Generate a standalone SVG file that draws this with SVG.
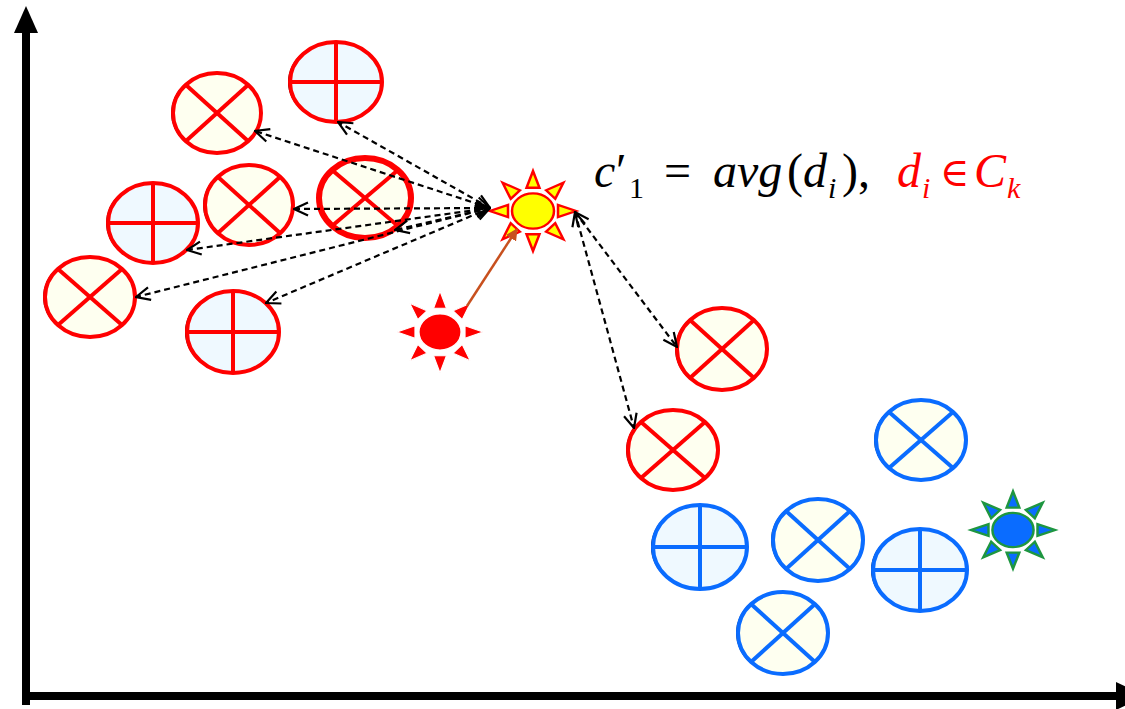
<svg xmlns="http://www.w3.org/2000/svg" width="1125" height="709" viewBox="0 0 1125 709">
<style>
.sh{fill:#000}
.rc{fill:#FEFFF0;stroke:#FF0000;stroke-width:4}
.rp{fill:#EFF9FF;stroke:#FF0000;stroke-width:4}
.bc{fill:#FEFFF0;stroke:#0A6CFF;stroke-width:4}
.bp{fill:#EFF9FF;stroke:#0A6CFF;stroke-width:4}
.rl{stroke:#FF0000;stroke-width:4}
.bl{stroke:#0A6CFF;stroke-width:4}
.dash{fill:none;stroke:#000;stroke-width:2.2;stroke-dasharray:6 4;marker-start:url(#v);marker-end:url(#v)}
.ax{stroke:#000;stroke-width:8;fill:none}
.f{font-family:"Liberation Serif","DejaVu Serif",serif;font-size:48px;fill:#000}
.it{font-style:italic}
.sub{font-size:30px}
</style>
<defs>
<marker id="v" viewBox="0 0 16 16" refX="15" refY="8" markerWidth="16" markerHeight="16" markerUnits="userSpaceOnUse" orient="auto-start-reverse">
<path d="M1,1.5 L15,8 L1,14.5" fill="none" stroke="#000" stroke-width="2.2"/>
</marker>
<marker id="oa" viewBox="0 0 12 12" refX="11" refY="6" markerWidth="12" markerHeight="12" markerUnits="userSpaceOnUse" orient="auto">
<path d="M0,0 L12,6 L0,12 z" fill="#C8501E"/>
</marker>
<g id="sun">
<polygon points="-6.5,-25 6.5,-25 0,-43"/>
<polygon points="-6.5,-25 6.5,-25 0,-43" transform="rotate(45)"/>
<polygon points="-6.5,-25 6.5,-25 0,-43" transform="rotate(90)"/>
<polygon points="-6.5,-25 6.5,-25 0,-43" transform="rotate(135)"/>
<polygon points="-6.5,-25 6.5,-25 0,-43" transform="rotate(180)"/>
<polygon points="-6.5,-25 6.5,-25 0,-43" transform="rotate(225)"/>
<polygon points="-6.5,-25 6.5,-25 0,-43" transform="rotate(270)"/>
<polygon points="-6.5,-25 6.5,-25 0,-43" transform="rotate(315)"/>
<ellipse rx="21" ry="19"/>
</g>
</defs>

<g id="axes">
<line class="ax" x1="26" y1="705" x2="26" y2="30"/>
<polygon points="14,33 38,33 26,6" fill="#000"/>
<line class="ax" x1="22" y1="696" x2="1118" y2="696"/>
<polygon points="1116,682 1116,710 1145,696" fill="#000"/>
</g>

<g id="red-cross-1"><ellipse class="sh" cx="215" cy="113" rx="44" ry="40"/><ellipse class="rc" cx="217" cy="113" rx="44" ry="40"/><line class="rl" x1="186" y1="85" x2="248" y2="141"/><line class="rl" x1="248" y1="85" x2="186" y2="141"/></g>
<g id="red-plus-2"><ellipse class="sh" cx="334" cy="82" rx="46" ry="40"/><ellipse class="rp" cx="336" cy="82" rx="46" ry="40"/><line class="rl" x1="290" y1="82" x2="382" y2="82"/><line class="rl" x1="336" y1="42" x2="336" y2="122"/></g>
<g id="red-cross-3"><ellipse class="sh" cx="247" cy="205" rx="44" ry="40"/><ellipse class="rc" cx="249" cy="205" rx="44" ry="40"/><line class="rl" x1="218" y1="177" x2="280" y2="233"/><line class="rl" x1="280" y1="177" x2="218" y2="233"/></g>
<g id="red-cross-4"><ellipse class="rc" cx="365" cy="198" rx="46" ry="40" style="stroke-width:6"/><line class="rl" x1="332" y1="170" x2="398" y2="226"/><line class="rl" x1="398" y1="170" x2="332" y2="226"/></g>
<g id="red-plus-5"><ellipse class="sh" cx="151" cy="223" rx="45" ry="40"/><ellipse class="rp" cx="153" cy="223" rx="45" ry="40"/><line class="rl" x1="108" y1="223" x2="198" y2="223"/><line class="rl" x1="153" y1="183" x2="153" y2="263"/></g>
<g id="red-cross-6"><ellipse class="sh" cx="88" cy="297" rx="45" ry="40"/><ellipse class="rc" cx="90" cy="297" rx="45" ry="40"/><line class="rl" x1="58" y1="269" x2="122" y2="325"/><line class="rl" x1="122" y1="269" x2="58" y2="325"/></g>
<g id="red-plus-7"><ellipse class="sh" cx="231" cy="332" rx="46" ry="41"/><ellipse class="rp" cx="233" cy="332" rx="46" ry="41"/><line class="rl" x1="187" y1="332" x2="279" y2="332"/><line class="rl" x1="233" y1="291" x2="233" y2="373"/></g>
<g id="red-cross-8"><ellipse class="sh" cx="720" cy="349" rx="45" ry="41"/><ellipse class="rc" cx="722" cy="349" rx="45" ry="41"/><line class="rl" x1="690" y1="320" x2="754" y2="378"/><line class="rl" x1="754" y1="320" x2="690" y2="378"/></g>
<g id="red-cross-9"><ellipse class="sh" cx="671" cy="450" rx="45" ry="40"/><ellipse class="rc" cx="673" cy="450" rx="45" ry="40"/><line class="rl" x1="641" y1="422" x2="705" y2="478"/><line class="rl" x1="705" y1="422" x2="641" y2="478"/></g>

<g id="blue-cross-10"><ellipse class="sh" cx="919" cy="440" rx="45" ry="40"/><ellipse class="bc" cx="921" cy="440" rx="45" ry="40"/><line class="bl" x1="889" y1="412" x2="953" y2="468"/><line class="bl" x1="953" y1="412" x2="889" y2="468"/></g>
<g id="blue-plus-11"><ellipse class="sh" cx="698" cy="547" rx="47" ry="42"/><ellipse class="bp" cx="700" cy="547" rx="47" ry="42"/><line class="bl" x1="653" y1="547" x2="747" y2="547"/><line class="bl" x1="700" y1="505" x2="700" y2="589"/></g>
<g id="blue-cross-12"><ellipse class="sh" cx="816" cy="540" rx="45" ry="41"/><ellipse class="bc" cx="818" cy="540" rx="45" ry="41"/><line class="bl" x1="786" y1="511" x2="850" y2="569"/><line class="bl" x1="850" y1="511" x2="786" y2="569"/></g>
<g id="blue-plus-13"><ellipse class="sh" cx="918" cy="570" rx="47" ry="41"/><ellipse class="bp" cx="920" cy="570" rx="47" ry="41"/><line class="bl" x1="873" y1="570" x2="967" y2="570"/><line class="bl" x1="920" y1="529" x2="920" y2="611"/></g>
<g id="blue-cross-14"><ellipse class="sh" cx="781" cy="633" rx="45" ry="41"/><ellipse class="bc" cx="783" cy="633" rx="45" ry="41"/><line class="bl" x1="751" y1="604" x2="815" y2="662"/><line class="bl" x1="815" y1="604" x2="751" y2="662"/></g>

<g id="sun-yellow"><use href="#sun" transform="translate(533,211) scale(1.0,0.93)" fill="#FFFF00" stroke="#FF0000" stroke-width="2.5"/></g>
<g id="sun-red"><use href="#sun" transform="translate(440,332) scale(1.0,0.95)" fill="#FF0000" stroke="#FFFFFF" stroke-width="1.2"/></g>
<g id="sun-green"><use href="#sun" transform="translate(1013,530) scale(0.98,0.9)" fill="#0A6CFF" stroke="#1E9640" stroke-width="2.5"/></g>

<g id="connectors">
<line class="dash" x1="490" y1="208" x2="255" y2="131"/>
<line class="dash" x1="490" y1="208" x2="338" y2="122"/>
<line class="dash" x1="490" y1="208" x2="294" y2="209"/>
<line class="dash" x1="490" y1="208" x2="395" y2="230"/>
<line class="dash" x1="490" y1="208" x2="187" y2="250"/>
<line class="dash" x1="490" y1="208" x2="136" y2="297"/>
<line class="dash" x1="490" y1="208" x2="266" y2="303"/>
<line class="dash" x1="575" y1="212" x2="677" y2="347"/>
<line class="dash" x1="575" y1="212" x2="634" y2="428"/>
<line x1="467" y1="306" x2="517" y2="229" stroke="#C8501E" stroke-width="2.5" marker-end="url(#oa)"/>
</g>

<g id="formula">
<text class="f" y="187"><tspan x="594" class="it">c</tspan><tspan x="616">′</tspan><tspan x="629" y="198" class="sub">1</tspan><tspan x="664" y="187">=</tspan><tspan x="713" class="it">avg</tspan><tspan x="787">(</tspan><tspan class="it">d</tspan><tspan x="828" y="198" class="sub it">i</tspan><tspan x="842" y="187">),</tspan><tspan x="897" fill="#FF0000" class="it">d</tspan><tspan x="922" y="198" class="sub it" fill="#FF0000">i</tspan><tspan x="940" y="186" fill="#FF0000" font-size="40">∈</tspan><tspan x="974" y="187" class="it" fill="#FF0000">C</tspan><tspan x="1007" y="198" class="sub it" fill="#FF0000">k</tspan></text>
</g>
</svg>
